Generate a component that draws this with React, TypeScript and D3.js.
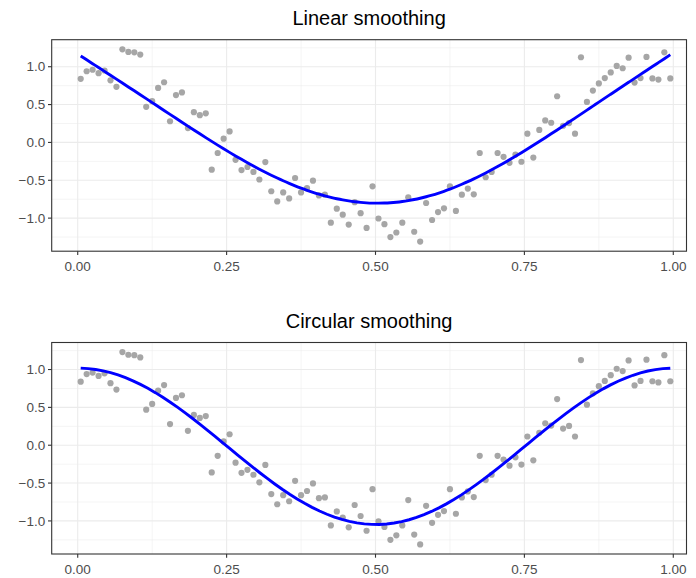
import React, { useEffect } from "react";
import * as d3 from "d3";

// observations (same points in both panels)
const xValues = [
  0.005, 0.015, 0.025, 0.035, 0.045, 0.055, 0.065, 0.075, 0.085, 0.095,
  0.105, 0.115, 0.125, 0.135, 0.145, 0.155, 0.165, 0.175, 0.185, 0.195,
  0.205, 0.215, 0.225, 0.235, 0.245, 0.255, 0.265, 0.275, 0.285, 0.295,
  0.305, 0.315, 0.325, 0.335, 0.345, 0.355, 0.365, 0.375, 0.385, 0.395,
  0.405, 0.415, 0.425, 0.435, 0.445, 0.455, 0.465, 0.475, 0.485, 0.495,
  0.505, 0.515, 0.525, 0.535, 0.545, 0.555, 0.565, 0.575, 0.585, 0.595,
  0.605, 0.615, 0.625, 0.635, 0.645, 0.655, 0.665, 0.675, 0.685, 0.695,
  0.705, 0.715, 0.725, 0.735, 0.745, 0.755, 0.765, 0.775, 0.785, 0.795,
  0.805, 0.815, 0.825, 0.835, 0.845, 0.855, 0.865, 0.875, 0.885, 0.895,
  0.905, 0.915, 0.925, 0.935, 0.945, 0.955, 0.965, 0.975, 0.985, 0.995,
];
const yValues = [
  0.84, 0.94, 0.96, 0.915, 0.95, 0.82, 0.735, 1.23, 1.195, 1.19,
  1.16, 0.47, 0.545, 0.72, 0.795, 0.28, 0.625, 0.66, 0.19, 0.4,
  0.36, 0.385, -0.36, -0.14, 0.05, 0.145, -0.23, -0.365, -0.325, -0.39,
  -0.49, -0.26, -0.645, -0.78, -0.66, -0.74, -0.47, -0.66, -0.605, -0.505,
  -0.7, -0.69, -1.06, -0.875, -0.955, -1.085, -0.79, -0.935, -1.13, -0.58,
  -1.005, -1.08, -1.25, -1.19, -1.06, -0.725, -1.18, -1.31, -0.8, -1.025,
  -0.92, -0.87, -0.58, -0.905, -0.69, -0.61, -0.685, -0.14, -0.46, -0.39,
  -0.14, -0.19, -0.27, -0.16, -0.255, 0.115, -0.2, 0.165, 0.29, 0.26,
  0.61, 0.22, 0.255, 0.115, 1.125, 0.535, 0.685, 0.78, 0.85, 0.925,
  1.01, 0.98, 1.12, 0.79, 0.85, 1.13, 0.845, 0.83, 1.19, 0.845,
];

const xTicks = [0, 0.25, 0.5, 0.75, 1];
const xMinor = [0.125, 0.375, 0.625, 0.875];
const yTicks = [-1, -0.5, 0, 0.5, 1];
const yMinor = [-1.25, -0.75, -0.25, 0.25, 0.75, 1.25];
const panelTitles = ["Linear smoothing", "Circular smoothing"];

const W = 696;
const H = 578;
const FONT = "'Liberation Sans', Arial, Helvetica, sans-serif";

// gaussian elimination for the small systems below
function solve(A: number[][], b: number[]) {
  const n = b.length;
  const M = A.map((row, i) => [...row, b[i]]);
  for (let c = 0; c < n; c++) {
    let p = c;
    for (let r = c + 1; r < n; r++) if (Math.abs(M[r][c]) > Math.abs(M[p][c])) p = r;
    [M[c], M[p]] = [M[p], M[c]];
    for (let r = c + 1; r < n; r++) {
      const f = M[r][c] / M[c][c];
      if (f === 0) continue;
      for (let k = c; k <= n; k++) M[r][k] -= f * M[c][k];
    }
  }
  const out = new Array(n).fill(0);
  for (let r = n - 1; r >= 0; r--) {
    let s = M[r][n];
    for (let k = r + 1; k < n; k++) s -= M[r][k] * out[k];
    out[r] = s / M[r][r];
  }
  return out;
}

// cubic smoothing spline (Reinsch), fitted values at the data points
function smoothingSpline(xs: number[], ys: number[], lambda: number) {
  const n = xs.length;
  const m = n - 2;
  const h = d3.range(n - 1).map((i) => xs[i + 1] - xs[i]);
  const Q = d3.range(n).map(() => new Array(m).fill(0));
  const R = d3.range(m).map(() => new Array(m).fill(0));
  for (let j = 0; j < m; j++) {
    Q[j][j] = 1 / h[j];
    Q[j + 1][j] = -1 / h[j] - 1 / h[j + 1];
    Q[j + 2][j] = 1 / h[j + 1];
    R[j][j] = (h[j] + h[j + 1]) / 3;
    if (j + 1 < m) {
      R[j][j + 1] = h[j + 1] / 6;
      R[j + 1][j] = h[j + 1] / 6;
    }
  }
  const A = d3.range(m).map((i) =>
    d3.range(m).map((j) => {
      let s = 0;
      for (let k = Math.max(i, j); k <= Math.min(i, j) + 2; k++) s += Q[k][i] * Q[k][j];
      return R[i][j] + lambda * s;
    })
  );
  const b = d3.range(m).map((j) => Q[j][j] * ys[j] + Q[j + 1][j] * ys[j + 1] + Q[j + 2][j] * ys[j + 2]);
  const g = solve(A, b);
  return xs.map((x, k) => {
    let s = 0;
    for (let j = Math.max(0, k - 2); j <= Math.min(m - 1, k); j++) s += Q[k][j] * g[j];
    return [x, ys[k] - lambda * s] as [number, number];
  });
}

// periodic (harmonic) least squares fit
function circularFit(xs: number[], ys: number[], nOut = 80) {
  const basis = [() => 1, (x: number) => Math.cos(2 * Math.PI * x), (x: number) => Math.sin(2 * Math.PI * x)];
  const A = d3.range(3).map(() => [0, 0, 0]);
  const b = [0, 0, 0];
  xs.forEach((x, i) => {
    const row = basis.map((f) => f(x));
    for (let r = 0; r < 3; r++) {
      b[r] += row[r] * ys[i];
      for (let c = 0; c < 3; c++) A[r][c] += row[r] * row[c];
    }
  });
  const coef = solve(A, b);
  const [x0, x1] = d3.extent(xs) as [number, number];
  return d3.range(nOut).map((i) => {
    const x = x0 + ((x1 - x0) * i) / (nOut - 1);
    return [x, basis.reduce((s, f, k) => s + coef[k] * f(x), 0)] as [number, number];
  });
}

const fmtY = (v: number) => (v < 0 ? "\u2212" : "") + d3.format(".1f")(Math.abs(v));
const fmtX = d3.format(".2f");

const Panel = ({ top, title, fit, curve }: { top: number; title: string; fit: [number, number][]; curve: d3.CurveFactory }) => {
  const left = 51.7;
  const right = 686.5;
  const bottom = top + 211.5;

  const x = d3.scaleLinear().domain([-0.0437, 1.0222]).range([left, right]);
  const [lo, hi] = d3.extent(yValues) as [number, number];
  const pad = (hi - lo) * 0.05;
  const y = d3.scaleLinear().domain([lo - pad, hi + pad]).range([bottom, top]);

  const line = d3
    .line<[number, number]>()
    .x((d) => x(d[0]))
    .y((d) => y(d[1]))
    .curve(curve);

  return (
    <g>
      <text x={(left + right) / 2} y={top - 14.5} textAnchor="middle" fontSize={20} fill="#000" fontFamily={FONT}>
        {title}
      </text>
      <rect x={left} y={top} width={right - left} height={bottom - top} fill="#fff" />
      {yMinor.map((v) => (
        <line key={"ym" + v} x1={left} x2={right} y1={y(v)} y2={y(v)} stroke="#EBEBEB" strokeWidth={0.55} />
      ))}
      {xMinor.map((v) => (
        <line key={"xm" + v} x1={x(v)} x2={x(v)} y1={top} y2={bottom} stroke="#EBEBEB" strokeWidth={0.55} />
      ))}
      {yTicks.map((v) => (
        <line key={"yg" + v} x1={left} x2={right} y1={y(v)} y2={y(v)} stroke="#EBEBEB" strokeWidth={1.1} />
      ))}
      {xTicks.map((v) => (
        <line key={"xg" + v} x1={x(v)} x2={x(v)} y1={top} y2={bottom} stroke="#EBEBEB" strokeWidth={1.1} />
      ))}
      {xValues.map((xv, i) => (
        <circle key={"p" + i} cx={x(xv)} cy={y(yValues[i])} r={3.1} fill="#A6A6A6" />
      ))}
      <path d={line(fit) || ""} fill="none" stroke="#0000FF" strokeWidth={2.9} />
      <rect x={left} y={top} width={right - left} height={bottom - top} fill="none" stroke="#333333" strokeWidth={1.1} />
      {yTicks.map((v) => (
        <g key={"yt" + v}>
          <line x1={left - 3.7} x2={left} y1={y(v)} y2={y(v)} stroke="#333333" strokeWidth={1.1} />
          <text x={left - 6.5} y={y(v)} dy="0.35em" textAnchor="end" fontSize={13.5} fill="#4D4D4D" fontFamily={FONT}>
            {fmtY(v)}
          </text>
        </g>
      ))}
      {xTicks.map((v) => (
        <g key={"xt" + v}>
          <line x1={x(v)} x2={x(v)} y1={bottom} y2={bottom + 3.7} stroke="#333333" strokeWidth={1.1} />
          <text x={x(v)} y={bottom + 19.5} textAnchor="middle" fontSize={13.5} fill="#4D4D4D" fontFamily={FONT}>
            {fmtX(v)}
          </text>
        </g>
      ))}
    </g>
  );
};

export default function App() {
  useEffect(() => {
    document.body.style.margin = "0";
  }, []);

  const linear = smoothingSpline(xValues, yValues, 0.03);
  const circular = circularFit(xValues, yValues);

  return (
    <svg width={W} height={H} style={{ display: "block", background: "#fff" }}>
      <rect width={W} height={H} fill="#fff" />
      <Panel top={39.7} title={panelTitles[0]} fit={linear} curve={d3.curveNatural} />
      <Panel top={342.5} title={panelTitles[1]} fit={circular} curve={d3.curveLinear} />
    </svg>
  );
}
